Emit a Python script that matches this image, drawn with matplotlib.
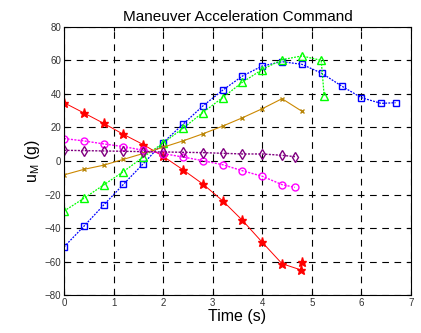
import numpy as np
import matplotlib
matplotlib.use('Agg')
import matplotlib.pyplot as plt

plt.rcParams['font.family'] = ['Liberation Sans', 'DejaVu Sans']

# time samples (s)
t_blue = [0, 0.4, 0.8, 1.2, 1.6, 2.0, 2.4, 2.8, 3.2, 3.6, 4.0, 4.4, 4.8, 5.2, 5.6, 6.0, 6.4, 6.69]
u_blue = [-51.3, -39, -26.3, -13.9, -1.6, 11, 21.9, 32.8, 42.2, 50.7, 56.7, 59.3, 57.7, 52.4, 44.8, 37.8, 34.4, 34.8]

t_green = [0, 0.4, 0.8, 1.2, 1.6, 2.0, 2.4, 2.8, 3.2, 3.6, 4.0, 4.4, 4.8, 5.19, 5.25]
u_green = [-29.9, -22.3, -14.3, -6.3, 2.4, 10.7, 19.5, 28.9, 37.8, 47, 54.6, 60.5, 62.7, 60.1, 39]

t_red = [0, 0.4, 0.8, 1.2, 1.6, 2.0, 2.4, 2.8, 3.2, 3.6, 4.0, 4.4, 4.78, 4.81]
u_red = [34.8, 28.7, 22.5, 15.9, 9.8, 2.8, -5.2, -13.7, -23.7, -35.4, -48.5, -61.3, -65, -60.5]

t_orange = [0, 0.4, 0.8, 1.2, 1.6, 2.0, 2.4, 2.8, 3.2, 3.6, 4.0, 4.4, 4.8]
u_orange = [-8.3, -5, -2.5, 1, 4.5, 8.2, 12, 16.2, 20.8, 25.8, 31.2, 37.2, 29.7]

t_magenta = [0, 0.4, 0.8, 1.2, 1.6, 2.0, 2.4, 2.8, 3.2, 3.6, 4.0, 4.4, 4.66]
u_magenta = [13.4, 12, 10.2, 8.6, 6.4, 4.4, 2.4, 0.2, -2.2, -5.8, -9.1, -14.1, -15.7]

t_purple = [0, 0.4, 0.8, 1.2, 1.6, 2.0, 2.4, 2.8, 3.2, 3.6, 4.0, 4.4, 4.66]
u_purple = [6.4, 6.2, 6.0, 5.8, 5.6, 5.4, 5.2, 5.0, 4.6, 4.2, 4.2, 3.4, 2.6]

fig = plt.figure(figsize=(4.21, 3.33), dpi=100)
ax = fig.add_axes([0.152, 0.114, 0.824, 0.805])

dots = (0, (1.5, 1))
ax.plot(t_blue, u_blue, color='#0000ff', ls=dots, lw=0.9, marker='s', ms=5, mfc='none', mec='#0000ff', mew=1.0)
ax.plot(t_green, u_green, color='#00ff00', ls=dots, lw=0.9, marker='^', ms=5.5, mfc='none', mec='#00ff00', mew=1.0)
ax.plot(t_red, u_red, '-', color='#ff0000', lw=0.7, marker='*', ms=6.5, mfc='#ff0000', mec='#ff0000')
ax.plot(t_orange, u_orange, '-', color='#cc8800', lw=0.8, marker='x', ms=3.5, mec='#b8860b', mew=1.0)
ax.plot(t_magenta, u_magenta, color='#ff00ff', ls=dots, lw=1.0, marker='o', ms=5, mfc='none', mec='#ff00ff', mew=1.0)
ax.plot(t_purple, u_purple, color='#800080', ls=dots, lw=1.0, marker='d', ms=5, mfc='none', mec='#800080', mew=1.0)

ax.set_xlim(0, 7)
ax.set_ylim(-80, 80)
ax.set_xticks(np.arange(0, 8, 1))
ax.set_yticks(np.arange(-80, 81, 20))
ax.grid(True, color='black', linestyle=(0, (6, 5)), linewidth=0.8)
ax.tick_params(direction='in', top=True, right=True, labelsize=7, labelcolor='#333333', length=3, pad=2)
for s in ax.spines.values():
    s.set_linewidth(0.8)

ax.set_title('Maneuver Acceleration Command', fontsize=11, pad=4)
ax.set_xlabel('Time (s)', fontsize=11.5, labelpad=1)
ax.set_ylabel('u$_\\mathregular{M}$ (g)', fontsize=11.5, labelpad=2)

fig.savefig('out.png', dpi=100)
